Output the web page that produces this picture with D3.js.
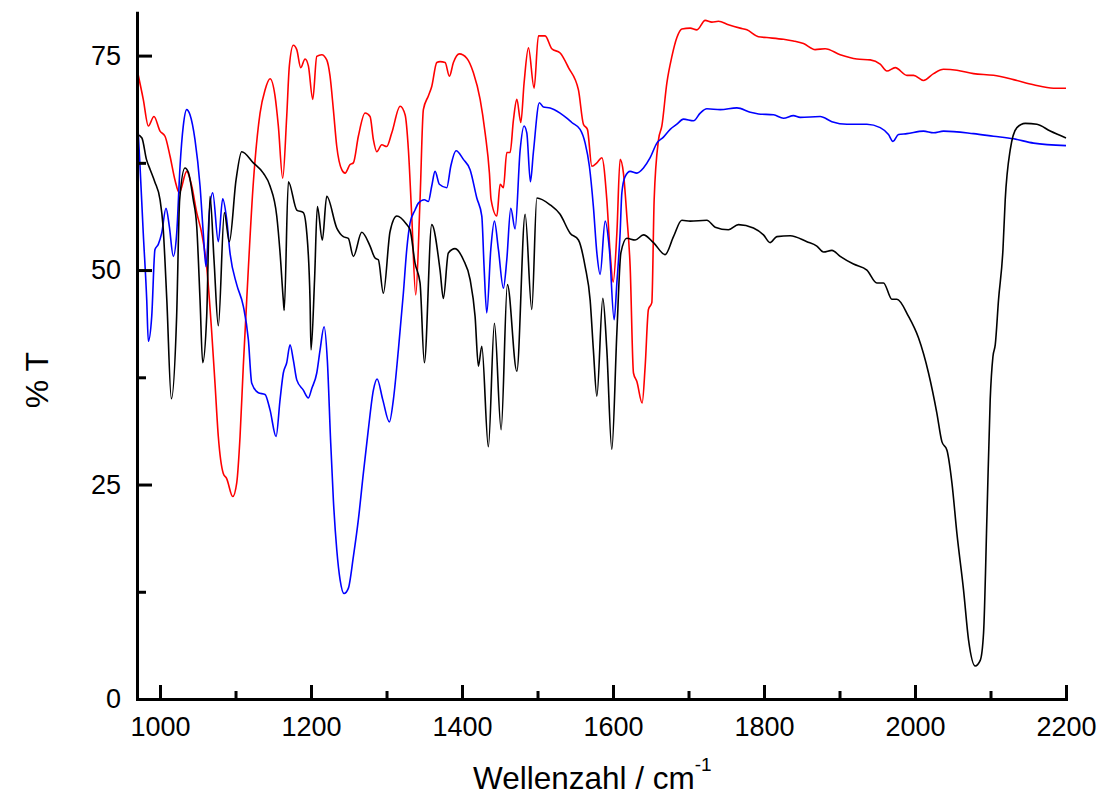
<!DOCTYPE html>
<html>
<head>
<meta charset="utf-8">
<script src="https://cdn.jsdelivr.net/npm/d3@7"></script>
<style>
  body { margin: 0; background: #fff; }
  svg { display: block; font-family: "Liberation Sans", Arial, sans-serif; }
</style>
</head>
<body>
<svg width="1100" height="798"></svg>
<script>
const width = 1100;
const height = 798;
const margin = {top: 12.7, right: 34, bottom: 99, left: 137};

// x range and ticks
const xDomain = [969.5, 2200];
const yDomain = [0, 80];
const xMajorTicks = [1000, 1200, 1400, 1600, 1800, 2000, 2200];
const xMinorTicks = [1100, 1300, 1500, 1700, 1900, 2100];
const yMajorTicks = [0, 25, 50, 75];
const yMinorTicks = [12.5, 37.5, 62.5];

// black spectrum
const blackWn = [970, 976, 982, 987, 993, 1000, 1004, 1009, 1015, 1022, 1026, 1033, 1037.5, 1044, 1048.6, 1053, 1056.5, 1061.8, 1066.2, 1071.5, 1077.2, 1085.2, 1091.8, 1100.7, 1108.2, 1123.6, 1136.8, 1145.7, 1154.6, 1159, 1163.3, 1164.5, 1170, 1181.1, 1189.8, 1194.3, 1198.7, 1200, 1204.7, 1208.4, 1215, 1220.8, 1234.1, 1242.8, 1249.4, 1256.1, 1267.2, 1278.2, 1284.8, 1289.2, 1295.8, 1304.7, 1313.6, 1326.8, 1331.2, 1337.8, 1344.4, 1350.1, 1359.9, 1370.9, 1375.3, 1381.9, 1390.8, 1401.8, 1410.7, 1417.3, 1421.7, 1426.2, 1434.9, 1442.9, 1451.8, 1460.1, 1472.6, 1483.6, 1492.4, 1499.1, 1516.7, 1529.9, 1543.2, 1554.2, 1563.1, 1569.7, 1574, 1578.6, 1586.5, 1591.8, 1598.4, 1605.1, 1610.4, 1618.3, 1629.3, 1640.3, 1653.6, 1669, 1680.1, 1691.2, 1702.2, 1724.3, 1735.3, 1752.9, 1766.2, 1786, 1799.3, 1808.2, 1817, 1834.7, 1856.8, 1870, 1878.8, 1889.9, 1900.9, 1918.5, 1936.3, 1949.5, 1958.3, 1969.4, 1976, 1991.4, 2004.6, 2017.9, 2029, 2035.6, 2042.3, 2048.9, 2055.5, 2064.3, 2070.9, 2079.8, 2086.4, 2090.8, 2095.3, 2099.6, 2103.2, 2106.3, 2110.6, 2116.5, 2119.5, 2126.1, 2135, 2146, 2161.5, 2179.1, 2200];
const blackT = [65.8, 65.4, 62.9, 61.7, 60.3, 58.2, 55.1, 46.5, 35.0, 44.6, 58.2, 61.9, 61.4, 58.2, 55.1, 46.5, 39.2, 44.6, 58.6, 51.2, 43.5, 56.7, 53.3, 60.5, 63.8, 62.5, 61.3, 59.8, 56.3, 52.0, 46.5, 45.3, 60.3, 57.0, 56.7, 54.4, 46.5, 40.7, 48.9, 57.4, 53.5, 58.6, 54.9, 53.9, 53.7, 51.6, 54.4, 52.8, 51.4, 51.2, 47.3, 54.5, 56.3, 55.3, 54.7, 50.8, 48.5, 39.2, 55.3, 50.0, 46.7, 52.0, 52.5, 51.2, 48.9, 44.6, 38.8, 41.1, 29.4, 43.8, 31.4, 48.3, 38.2, 56.5, 45.4, 58.4, 57.6, 56.5, 54.3, 53.5, 50.4, 46.5, 40.7, 35.3, 46.7, 40.7, 29.1, 42.7, 52.0, 53.7, 53.5, 54.1, 53.2, 51.8, 53.9, 55.8, 55.7, 55.8, 55.0, 54.7, 55.3, 54.9, 54.1, 53.2, 53.9, 54.0, 53.3, 52.8, 52.1, 52.3, 51.6, 50.7, 50.0, 48.5, 48.5, 46.6, 46.6, 44.6, 42.1, 38.0, 33.3, 30.0, 29.0, 25.2, 19.3, 12.7, 6.9, 3.85, 4.5, 7.7, 21.3, 34.9, 39.9, 41.3, 46.5, 52.4, 58.2, 64.0, 66.6, 67.1, 67.0, 66.2, 65.4];

// red spectrum
const redWn = [970, 977.8, 984.5, 992, 1000, 1006.6, 1013.2, 1019.8, 1025.5, 1035.3, 1042, 1048.6, 1055.2, 1061.8, 1068.5, 1072.8, 1077.2, 1083.8, 1088.3, 1096.3, 1101.6, 1106, 1110.3, 1114.8, 1123.6, 1132.5, 1139.1, 1145.7, 1152.3, 1156.7, 1162.5, 1167.8, 1171.3, 1176.6, 1181.1, 1186.4, 1192.1, 1196.5, 1202.3, 1207.6, 1214.2, 1220.8, 1225.2, 1229.6, 1234.1, 1240.7, 1245.1, 1251.7, 1256.1, 1262.7, 1271.6, 1278.2, 1282.6, 1287.1, 1293.7, 1300.3, 1307, 1318, 1324.6, 1329, 1333.4, 1338.7, 1344.4, 1348.8, 1355.4, 1359.9, 1366.6, 1370.9, 1377.6, 1383.3, 1388.6, 1396.5, 1406.3, 1415.1, 1424, 1430.6, 1436.3, 1438.5, 1446.1, 1450.5, 1454.8, 1459.3, 1463.7, 1468.1, 1472.6, 1477.9, 1482.2, 1488, 1495.5, 1501.2, 1510.1, 1518.9, 1530, 1541, 1554.2, 1560.8, 1566.1, 1572, 1578.6, 1585.2, 1591.8, 1596.2, 1600.2, 1605.1, 1609.4, 1613.8, 1618.3, 1622.7, 1627.1, 1631.6, 1638.6, 1642.6, 1646.9, 1651.4, 1654.5, 1660.3, 1664.7, 1671.3, 1678, 1684.6, 1691.2, 1702.2, 1711.1, 1722.1, 1730.9, 1739.7, 1752.9, 1768.4, 1777.3, 1792.6, 1803.8, 1825.8, 1839, 1852.3, 1867.8, 1881, 1900.9, 1923, 1940.7, 1953.9, 1962.8, 1973.8, 1989.3, 1998.1, 2011.3, 2024.6, 2037.8, 2055.5, 2077.5, 2104, 2130.5, 2157, 2183.5, 2200];
const redT = [73.2, 69.9, 66.8, 67.9, 66.2, 65.6, 63.3, 60.5, 59.0, 61.5, 59.8, 56.7, 54.3, 50.4, 42.7, 36.8, 30.6, 26.3, 25.7, 23.6, 25.2, 30.6, 38.8, 46.5, 60.2, 68.3, 71.0, 72.3, 70.3, 66.8, 60.7, 67.9, 73.8, 76.2, 75.7, 73.6, 74.6, 73.8, 69.9, 74.9, 75.1, 74.5, 72.6, 68.7, 64.4, 61.7, 61.3, 62.3, 62.5, 65.6, 68.3, 67.9, 65.2, 63.8, 64.6, 64.4, 66.0, 69.1, 68.1, 64.0, 56.3, 47.1, 58.2, 68.7, 70.3, 71.4, 74.2, 74.3, 74.2, 72.6, 74.2, 75.2, 74.7, 73.0, 69.9, 66.0, 61.3, 58.2, 56.3, 60.0, 59.6, 63.7, 63.7, 67.5, 69.9, 67.2, 71.8, 75.9, 71.2, 77.3, 77.3, 75.8, 75.3, 73.6, 71.0, 67.0, 66.4, 62.1, 62.5, 63.1, 58.2, 52.0, 48.6, 54.3, 62.9, 61.3, 56.3, 50.4, 38.0, 37.0, 34.5, 38.8, 45.4, 46.2, 58.2, 65.2, 66.8, 71.8, 74.9, 77.1, 78.1, 78.2, 78.0, 79.1, 78.9, 79.0, 78.6, 78.2, 78.0, 77.2, 77.1, 76.9, 76.7, 76.4, 75.7, 75.8, 75.1, 74.6, 74.5, 74.0, 73.2, 73.6, 72.7, 72.7, 72.1, 72.9, 73.4, 73.3, 72.9, 72.7, 72.2, 71.6, 71.2, 71.2];

// blue spectrum
const blueWn = [970, 973.5, 977.8, 982.4, 984.5, 989, 993.3, 997.7, 1002.2, 1007.9, 1012.3, 1017.6, 1022.1, 1026.5, 1030.8, 1035.3, 1039.7, 1046.3, 1053, 1057.3, 1060.9, 1065.3, 1069.8, 1077.2, 1083, 1088.3, 1092.7, 1101.6, 1110.3, 1117, 1121.5, 1130.2, 1139.1, 1145.7, 1153.7, 1159, 1163.3, 1167.8, 1172.2, 1176.6, 1181.1, 1189.8, 1196.5, 1201, 1207.6, 1212, 1217.3, 1221.6, 1225.9, 1229.6, 1234.1, 1238.5, 1243.8, 1249.4, 1256.1, 1262.7, 1269.3, 1275.9, 1282.6, 1287.5, 1295, 1303.8, 1309.1, 1315.7, 1322.3, 1326.8, 1331.2, 1337.8, 1342.2, 1350.1, 1355.4, 1359.9, 1364.3, 1370, 1379.8, 1385.1, 1392.1, 1401.8, 1410.7, 1419.6, 1426.2, 1429.2, 1432.8, 1438.1, 1442.9, 1448.2, 1454.8, 1459.3, 1464.6, 1470.3, 1477, 1482.2, 1485.8, 1490.6, 1494.5, 1502.5, 1507.8, 1516.7, 1529.9, 1538.8, 1545.4, 1556.4, 1563.1, 1568.7, 1574, 1578.6, 1582.9, 1589.6, 1595.2, 1601.5, 1605.1, 1609.4, 1611.7, 1616, 1622.7, 1631.6, 1640.3, 1649.2, 1658.1, 1666.8, 1675.7, 1684.6, 1693.3, 1706.6, 1715.5, 1724.3, 1742, 1764.1, 1781.7, 1792.7, 1812.6, 1825.8, 1839, 1847.9, 1874.4, 1889.9, 1909.8, 1936.3, 1953.9, 1964.9, 1970.8, 1978.2, 1989.3, 2011.3, 2024.6, 2037.8, 2077.5, 2104, 2130.5, 2157, 2200];
const blueT = [67.9, 62.1, 54.3, 46.5, 41.7, 44.6, 52.4, 53.0, 54.3, 57.2, 55.1, 51.6, 54.3, 62.1, 66.8, 68.7, 68.1, 65.2, 59.8, 54.3, 50.4, 56.7, 59.0, 53.3, 58.3, 55.9, 52.0, 48.3, 45.8, 41.9, 36.8, 35.7, 35.5, 33.7, 30.6, 34.9, 38.0, 39.2, 41.3, 39.5, 37.2, 36.0, 35.1, 36.2, 38.0, 40.7, 43.4, 39.5, 30.2, 23.2, 17.4, 13.9, 12.3, 12.9, 16.6, 20.9, 26.3, 31.4, 36.0, 37.3, 34.9, 32.3, 34.9, 40.7, 47.3, 52.4, 55.5, 57.0, 57.8, 58.2, 58.0, 59.8, 61.5, 60.0, 59.6, 62.1, 63.9, 62.9, 61.7, 58.4, 56.3, 50.4, 45.0, 52.4, 55.7, 52.4, 47.9, 51.2, 57.2, 54.8, 64.0, 66.8, 66.0, 60.3, 63.7, 69.5, 69.0, 68.9, 68.3, 67.7, 67.2, 66.4, 64.8, 62.1, 57.4, 52.0, 49.5, 55.7, 52.4, 44.2, 48.5, 54.3, 59.0, 60.9, 61.5, 61.3, 61.9, 63.1, 64.8, 65.5, 66.4, 67.0, 67.6, 67.4, 68.3, 68.8, 68.7, 68.9, 68.4, 68.2, 68.1, 67.7, 68.0, 67.8, 67.9, 67.3, 67.0, 67.0, 66.6, 65.8, 65.0, 65.8, 65.9, 66.2, 66.0, 66.2, 65.9, 65.6, 65.3, 64.8, 64.5];

const series = [
  {wn: redWn, t: redT, color: '#ff0000'},
  {wn: blueWn, t: blueT, color: '#0000ff'},
  {wn: blackWn, t: blackT, color: '#000000'}
];

const svg = d3.select('svg');

const xScale = d3.scaleLinear()
    .domain(xDomain)
    .range([margin.left, width - margin.right]);

const yScale = d3.scaleLinear()
    .domain(yDomain)
    .range([height - margin.bottom, margin.top]);

const line = d3.line()
    .x(d => xScale(d[0]))
    .y(d => yScale(d[1]))
    .curve(d3.curveMonotoneX);

svg.append('g')
  .selectAll('path')
  .data(series)
  .enter()
  .append('path')
    .attr('d', s => line(s.wn.map((w, i) => [w, s.t[i]])))
    .attr('fill', 'none')
    .attr('stroke', s => s.color)
    .attr('stroke-width', 1.6)
    .attr('stroke-linejoin', 'round');

// minor ticks (inward, no labels)
svg.append('g')
    .attr('transform', 'translate(0,' + (height - margin.bottom) + ')')
    .call(d3.axisBottom(xScale).tickValues(xMinorTicks).tickSize(-8).tickFormat(''))
    .call(g => g.select('.domain').remove())
    .selectAll('line').attr('stroke-width', 3);

svg.append('g')
    .attr('transform', 'translate(' + margin.left + ',0)')
    .call(d3.axisLeft(yScale).tickValues(yMinorTicks).tickSize(-9).tickFormat(''))
    .call(g => g.select('.domain').remove())
    .selectAll('line').attr('stroke-width', 3);

// major axes
const xAxis = svg.append('g')
    .attr('transform', 'translate(0,' + (height - margin.bottom) + ')')
    .call(d3.axisBottom(xScale).tickValues(xMajorTicks).tickFormat(d3.format('d'))
        .tickSize(-14).tickSizeOuter(0).tickPadding(18));

const yAxis = svg.append('g')
    .attr('transform', 'translate(' + margin.left + ',0)')
    .call(d3.axisLeft(yScale).tickValues(yMajorTicks).tickFormat(d3.format('d'))
        .tickSize(-15).tickSizeOuter(0).tickPadding(16));

[xAxis, yAxis].forEach(g => {
  g.select('.domain').attr('stroke-width', 3).attr('stroke-linecap', 'square');
  g.selectAll('.tick line').attr('stroke-width', 3);
  g.selectAll('.tick text')
      .attr('font-size', 27)
      .attr('font-family', '"Liberation Sans", Arial, sans-serif')
      .attr('fill', '#000');
});

// axis titles
const xTitle = svg.append('text')
    .attr('x', 473)
    .attr('y', 789)
    .attr('font-size', 31.5)
    .attr('fill', '#000');
xTitle.append('tspan').text('Wellenzahl / cm');
xTitle.append('tspan').text('-1').attr('font-size', 19).attr('dy', -18);

svg.append('text')
    .attr('transform', 'translate(48,380) rotate(-90)')
    .attr('text-anchor', 'middle')
    .attr('font-size', 32)
    .attr('fill', '#000')
    .text('% T');
</script>
</body>
</html>
